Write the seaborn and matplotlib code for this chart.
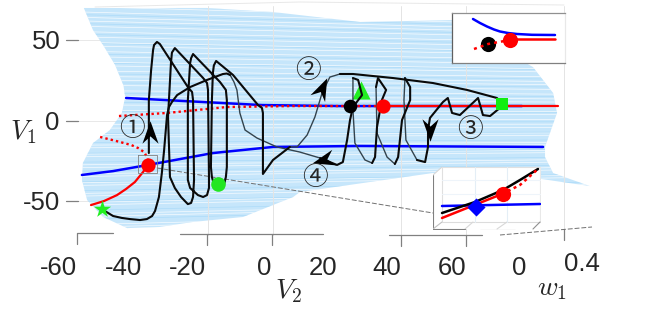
import matplotlib
matplotlib.use("Agg")
import matplotlib.pyplot as plt
from matplotlib.markers import MarkerStyle
from matplotlib.patches import Polygon
from matplotlib.path import Path
from matplotlib.transforms import Affine2D
import seaborn as sns

W, H = 664, 316

# outline of the sampled region (V2, V1)
field_v2 = [-58.2, -55.4, -52.3, -48.6, -46, -45.5, -46.5, -50.2, -55.4, -58.5, -58.8, -57.2, -52.3, -44.9, -34.8,
            -24.6, -9.2, 6.2, 8.3, 49.2, 82.2, 97.5, 86.2, 83.7, 83.7, 87.4, 86.2, 80, 55.4, 26.8, 0, -20.3]
field_v1 = [70.2, 56.5, 47.2, 34.8, 22, 14.9, 5, -5.6, -13.7, -26.1, -36.6, -49.1, -59.6, -66.5, -65.8,
            -62.7, -59.6, -47.2, -44.1, -32.3, -35.9, -40.4, -32.3, -22.4, -16.1, 5, 17.4, 33.5, 62.7, 61.5, 67.7, 70.2]
streak_levels = [-66, -64.5, -63, -61, -59.5, -58, -55, -53.5, -52, -50, -47, -45.5, -45, -42, -40.5, -39, -36, -34.5,
                 -34, -31, -29.5, -28, -26, -24.5, -23, -20, -18.5, -18, -15, -13.5, -12, -9, -7.5, -7, -4, -2, -0.5,
                 1, 4, 5.5, 6, 9, 10.5, 12, 14, 15.5, 17, 20, 21.5, 23, 25, 26.5, 28, 31, 32.5, 33, 36, 37.5, 39, 42,
                 43.5, 44, 47, 48.5, 50, 53, 54.5, 56, 58, 59.5, 61, 64, 65.5, 67, 69]

# nullclines
blue_up_v2 = [-45.2, -3.4, 20.6, 76.6]
blue_up_v1 = [14.3, 9.9, 9.3, 9.3]
blue_low_v2 = [-58.8, -49.2, -38.5, -18.5, 0, 26.8, 83.1]
blue_low_v1 = [-33.5, -31.1, -27.3, -19.9, -16.1, -15.5, -16.1]
red_dot_up_v2 = [-47.4, -32.6, -14.2, 6.2, 23.7, 32.9]
red_dot_up_v1 = [3.1, 5, 8.7, 9.3, 9.3, 9.3]
red_up_v2 = [32.9, 87.7]
red_up_v1 = [9.3, 9.3]
red_dot_low_v2 = [-53.2, -47.1, -43.5, -41.5, -39.5, -38.5, -38.5]
red_dot_low_v1 = [-9.9, -13, -15, -16.8, -19.5, -24.2, -27.3]
red_low_v2 = [-38.5, -40, -42.5, -45.2, -48, -52, -56]
red_low_v1 = [-27.3, -31.7, -37.9, -42.2, -46, -49.7, -52.2]

# trajectory, bold and thin stretches
bold_parts = [
    ([-52.7, -49.2, -46.5, -44, -40.9, -38.8, -37.2, -36.3, -35.7, -35.1, -34.2, -33.5, -32.6, -32, -31.1, -29.5,
      -25.5, -20.3, -15.4, -14.2, -13.2],
     [-54.7, -59, -60.2, -60.9, -61.5, -60.9, -59, -55.9, -51.6, -47.2, -32.3, -18, 3.7, 8.7, 11.8, 16.1,
      21.1, 25.5, 29.2, 29.5, 28.6]),
    ([14.5, 19.7, 21.5, 22.8, 23.7, 24.6, 27.4, 26.2, 24.6],
     [-23, -27.3, -25.5, -11.8, 0.6, 8.7, 16.1, 25.5, 26.7]),
    ([30.5, 31.4, 32, 33.5, 34.8, 32.3, 31.7],
     [-26.1, -22.4, -3.7, 13, 19.3, 26.7, 21.1]),
    ([37.5, 38.5, 39.7, 42.2, 42.2, 40.6],
     [-26.7, -22.4, 0.6, 13, 21.1, 26.7]),
    ([44.3, 46.8, 47.7, 47.7, 48.3, 52.3, 53.8, 55.1, 57.5, 63.1, 64.6, 66.8, 69.8, 70.5],
     [-24.2, -25.5, -16.1, -5.6, 1.9, 11.8, 14.3, 5, 3.7, 14.3, 3.7, 3.1, 8.1, 10.6]),
    ([70.5, 68.9, 59.7, 49.2, 36.9, 24.6, 20.6],
     [10.6, 14.3, 19.3, 23.6, 26.7, 29.2, 29.2]),
    ([5.2, 0, -3.1, -3.1, -3.4, -4.6, -12.3, -17.5, -18.2, -18.5, -18.8, -19.1, -18.8, -18.2, -17.2, -16, -15.1, -14.5,
      -14.2, -14.2, -14.5, -16.3, -24.6, -25.2, -25.5, -26.2, -26.2, -25.5, -23.1, -21.5, -20.3, -19.7, -19.7, -20,
      -20.3, -21.5, -30.2, -31.1, -31.4, -32.3, -31.7, -30.2, -28.3, -26.2, -25.2, -24.6, -24.3, -24.6, -24.9, -26.2,
      -34.8, -35.7, -36.6, -36.9, -37.5, -38.2, -38.2],
     [-16.1, -24.2, -32.9, 5, 8.1, 9.9, 28.6, 37.3, 34.5, 29.8, 13, -28.6, -34.8, -39.1, -41.6, -42.2, -39.8, -34.8,
      -28.6, 13, 19.3, 24.2, 41.6, 39, 36, 13, -36.6, -41.6, -46, -47.2, -46, -41.6, -34.8, 19.3,
      23.6, 26.7, 45.3, 42.5, 36, 2.5, -34.8, -41.6, -47.2, -51.6, -50.9, -47.2, -36.6, 13, 18, 21.1,
      47.8, 49.1, 47.2, 44.1, 31.7, 13, -19.9]),
]
thin_parts = [
    ([-13.2, -12, -11.1, -10.2, -8.6, -4.9, 1.2, 8.3, 14.5],
     [28.6, 24.2, 19.3, 5, -5.6, -10.6, -16.1, -19.3, -23]),
    ([24.6, 24.6, 25.2, 28.3, 30.5],
     [26.7, 6.8, -13.7, -24.2, -26.1]),
    ([31.7, 32, 35.1, 37.5],
     [21.1, -7.5, -22.4, -26.7]),
    ([40.6, 40.3, 40.9, 44.3],
     [26.7, 13, -11.8, -24.2]),
    ([20.6, 17.5, 15.1, 12.9, 10.5, 7.4, 5.2],
     [29.2, 27.3, 17.4, 2.5, -8.7, -16.1, -16.1]),
]

# marked points
red_pts_v2 = [-38.5, 33.8]
red_pts_v1 = [-27.3, 9.3]
black_pt = (23.7, 9.3)
star_pt = (-52.7, -54.7)
circle_pt = (-16.9, -39.1)
triangle_pt = (27.1, 19.3)
square_pt = (70.5, 10.6)
arrow_v2 = [-37.8, 15.1, 48.3, 15.4]
arrow_v1 = [-6.8, 20.5, -5.6, -24.2]
arrow_angle = [0, -25, 180, 105]

# first inset
ins1_blue_x = [21, 28, 35, 42, 48, 56, 65, 80, 103]
ins1_blue_y = [44, 40, 36.5, 33.5, 31.5, 30, 29, 28.2, 28]
ins1_red_x = [58, 103]
ins1_red_y = [24, 24]
ins1_dot_x = [22, 36, 58]
ins1_dot_y = [14, 19, 23]

# second inset
ins2_black_x = [9, 42, 70, 87, 105]
ins2_black_y = [17, 28, 40, 50, 61]
ins2_red_x = [9, 44, 69]
ins2_red_y = [12, 26, 36]
ins2_dot_x = [69, 87, 105]
ins2_dot_y = [36, 45, 61]
ins2_blue_x = [9, 107]
ins2_blue_y = [24, 26]

v2_labels = ["-60", "-40", "-20", "0", "20", "40", "60", "0"]
v2_label_px = [58, 123, 187, 264, 323, 387, 452, 519]
v1_labels = ["50", "0", "-50"]
circled = ["①", "②", "③", "④"]


def draw_line(ax, x, y, color, lw, ls="-", z=3, alpha=1.0):
    sns.lineplot(x=x, y=y, sort=False, estimator=None, color=color, linewidth=lw, linestyle=ls,
                 zorder=z, alpha=alpha, ax=ax, legend=False)


def draw_points(ax, x, y, color, size, marker="o", z=6):
    sns.scatterplot(x=x, y=y, color=color, s=size, marker=marker, linewidth=0, zorder=z, ax=ax, legend=False)


def pos(px, py):
    return px / W, 1 - py / H


def put_text(ax, px, py, txt, size, **kw):
    fx, fy = pos(px, py)
    ax.text(fx, fy, txt, transform=ax.transAxes, fontsize=size, ha="center", va="center",
            color="#262626", zorder=12, **kw)


def pixel_line(ax, xs, ys, color="#808080", lw=0.9, ls="-", z=2):
    fx = [x / W for x in xs]
    fy = [1 - y / H for y in ys]
    ax.plot(fx, fy, transform=ax.transAxes, color=color, lw=lw, ls=ls, zorder=z, clip_on=False)


def draw_main(ax):
    ax.set_xlim(-84, 120.31)
    ax.set_ylim(-121.1, 75.16)
    ax.axis("off")

    # sampled field
    shape = Polygon(list(zip(field_v2, field_v1)), closed=True, facecolor="#c6e6fb", edgecolor="none", zorder=1)
    ax.add_patch(shape)
    for i, lvl in enumerate(streak_levels):
        c = "#ffffff" if i % 3 else "#a9daf8"
        line, = ax.plot([-70, 100], [lvl * 1.12, lvl * 0.97], color=c, lw=0.5, alpha=0.85, zorder=1.5)
        line.set_clip_path(shape)

    # faint grid
    for gx in [207.5, 272.5, 401, 466, 564]:
        pixel_line(ax, [gx, gx], [6, 235], color="#e4e4e4", lw=0.7, z=1.7)
    for gy in [40, 121, 201]:
        pixel_line(ax, [78, 130], [gy, gy], color="#e8e8e8", lw=0.7, z=0.5)
    pixel_line(ax, [95, 300, 564], [7, 2, 5], color="#e8e8e8", lw=0.7, z=0.5)

    # axis pieces
    pixel_line(ax, [77, 77, 113], [244, 233, 233])
    pixel_line(ax, [180, 323], [234, 234])
    pixel_line(ax, [389, 482], [235, 235])
    for tx, y0, y1 in [(207, 234, 245), (272, 234, 245), (401, 235, 246), (466, 235, 246), (564, 229, 240)]:
        pixel_line(ax, [tx, tx], [y0, y1])
    for ty in [40, 121, 201]:
        pixel_line(ax, [66, 78], [ty, ty])

    # zoom box and connectors
    pixel_line(ax, [138, 157, 157, 138, 138], [155, 155, 173, 173, 155], lw=0.6, z=5)
    pixel_line(ax, [157, 433], [168, 213], color="#707070", lw=0.7, ls=(0, (5, 2)), z=2)
    pixel_line(ax, [500, 592], [235, 227], color="#707070", lw=0.7, ls=(0, (5, 2)), z=2)

    draw_line(ax, blue_up_v2, blue_up_v1, "#0000ff", 1.8)
    draw_line(ax, blue_low_v2, blue_low_v1, "#0000ff", 1.8)
    draw_line(ax, red_up_v2, red_up_v1, "#ff0000", 1.6, z=3.2)
    draw_line(ax, red_low_v2, red_low_v1, "#ff0000", 1.6, z=3.2)
    draw_line(ax, red_dot_up_v2, red_dot_up_v1, "#ff0000", 1.7, ls=(0, (1, 1.3)), z=3.2)
    draw_line(ax, red_dot_low_v2, red_dot_low_v1, "#ff0000", 1.7, ls=(0, (1, 1.3)), z=3.2)

    for px_, py_ in thin_parts:
        draw_line(ax, px_, py_, "#33434d", 1.0, z=4)
    for px_, py_ in bold_parts:
        draw_line(ax, px_, py_, "#0a0a0a", 1.5, z=4)

    draw_points(ax, red_pts_v2, red_pts_v1, "#ff0000", 105)
    draw_points(ax, [black_pt[0]], [black_pt[1]], "#000000", 95)
    draw_points(ax, [star_pt[0]], [star_pt[1]], "#22ee22", 170, marker="*")
    draw_points(ax, [circle_pt[0]], [circle_pt[1]], "#22e622", 110)
    draw_points(ax, [triangle_pt[0]], [triangle_pt[1]], "#22ee22", 170, marker="^", z=3.5)
    draw_points(ax, [square_pt[0]], [square_pt[1]], "#11ee11", 80, marker="s")

    # stealth arrow heads
    head = Path([(0, 1), (0.72, -1), (0, -0.35), (-0.72, -1), (0, 1)],
                [Path.MOVETO, Path.LINETO, Path.LINETO, Path.LINETO, Path.CLOSEPOLY])
    for ax_, ay_, ang in zip(arrow_v2, arrow_v1, arrow_angle):
        mk = MarkerStyle(head, transform=Affine2D().rotate_deg(ang))
        draw_points(ax, [ax_], [ay_], "#000000", 260, marker=mk, z=7)

    # labels
    font = ["Liberation Sans", "DejaVu Sans"]
    for txt, lx in zip(v2_labels, v2_label_px):
        put_text(ax, lx, 268, txt, 18.5, family=font)
    put_text(ax, 582, 264, "0.4", 18.5, family=font)
    put_text(ax, 46, 42, v1_labels[0], 18.5, family=font)
    put_text(ax, 52, 123, v1_labels[1], 18.5, family=font)
    put_text(ax, 41, 203, v1_labels[2], 18.5, family=font)
    put_text(ax, 288, 291, "$V_2$", 20)
    put_text(ax, 552, 288, "$w_1$", 20)
    put_text(ax, 23, 132, "$V_1$", 20)
    cjk = ["Noto Sans CJK SC", "DejaVu Sans"]
    for txt, (cx, cy) in zip(circled, [(132, 129), (308, 71), (470, 130), (315, 178)]):
        put_text(ax, cx, cy, txt, 18.5, family=cjk)


def draw_inset_one(fig):
    ax = fig.add_axes([452 / W, 1 - 63 / H, 113 / W, 50 / H], facecolor="white", zorder=5)
    ax.set_xlim(0, 113)
    ax.set_ylim(0, 50)
    ax.set_xticks([3, 24, 44, 64, 87, 96, 105])
    ax.set_xticklabels([])
    ax.set_yticks([])
    ax.tick_params(axis="x", length=2, width=0.6, color="#808080", direction="in")
    for side, c in [("left", "#606060"), ("bottom", "#808080"), ("top", "#909090"), ("right", "#e8e8e8")]:
        ax.spines[side].set_color(c)
        ax.spines[side].set_linewidth(0.9)
    draw_line(ax, ins1_blue_x, ins1_blue_y, "#0000ff", 1.8)
    draw_line(ax, ins1_red_x, ins1_red_y, "#ff0000", 1.8)
    draw_line(ax, ins1_dot_x, ins1_dot_y, "#ff0000", 1.8, ls=(0, (1.2, 1.6)), z=7)
    draw_points(ax, [36], [19], "#000000", 120)
    draw_points(ax, [58], [23], "#ff0000", 120)
    ax.set_xlabel("")
    ax.set_ylabel("")


def draw_inset_two(fig):
    ax = fig.add_axes([433 / W, 1 - 230 / H, 108 / W, 64 / H], zorder=5)
    ax.set_xlim(0, 108)
    ax.set_ylim(0, 64)
    ax.patch.set_alpha(0)
    ax.axis("off")
    ax.add_patch(Polygon([(0, 55), (9, 63), (107, 63), (107, 9), (100, 1), (0, 1)], closed=True,
                         facecolor="white", edgecolor="none", zorder=1))
    for xs, ys, c in [([0, 0], [1, 55], "#808080"), ([0, 9], [55, 63], "#d8d8d8"), ([9, 107], [63, 63], "#e0e0e0"),
                      ([9, 9], [8, 63], "#e0e0e0"), ([107, 107], [8, 63], "#e8e8e8"), ([0, 9], [1, 8], "#c0c0c0"),
                      ([9, 107], [8, 8], "#dcdcdc"), ([107, 100], [8, 1], "#909090"), ([32, 40], [1, 8], "#d8d8d8"),
                      ([64, 74], [1, 8], "#d8d8d8"), ([0, 32], [1, 1], "#808080"), ([47, 82], [0.5, 0.5], "#808080"),
                      ([42, 42], [8, 63], "#e4eef6"), ([74, 74], [8, 63], "#e4eef6"), ([9, 107], [36, 36], "#eef4fa"),
                      ([9, 107], [50, 50], "#eef4fa")]:
        ax.plot(xs, ys, color=c, lw=0.8, zorder=2)
    draw_line(ax, ins2_blue_x, ins2_blue_y, "#0000ff", 1.8)
    draw_line(ax, ins2_black_x, ins2_black_y, "#000000", 1.8, z=4)
    draw_line(ax, ins2_red_x, ins2_red_y, "#ff0000", 1.8, z=4)
    draw_line(ax, ins2_dot_x, ins2_dot_y, "#ff0000", 1.8, ls=(0, (1.2, 1.4)), z=4)
    draw_points(ax, [70], [36], "#ff0000", 120)
    draw_points(ax, [43], [23], "#0000ff", 85, marker="D", z=5)
    ax.set_xlabel("")
    ax.set_ylabel("")


def main():
    sns.set_style("white")
    plt.rcParams["mathtext.fontset"] = "cm"
    fig = plt.figure(figsize=(W / 100, H / 100), dpi=100)
    ax = fig.add_axes([0, 0, 1, 1])
    draw_main(ax)
    ax.set_xlabel("")
    ax.set_ylabel("")
    draw_inset_one(fig)
    draw_inset_two(fig)
    fig.savefig("out.png", dpi=100)


if __name__ == "__main__":
    main()
